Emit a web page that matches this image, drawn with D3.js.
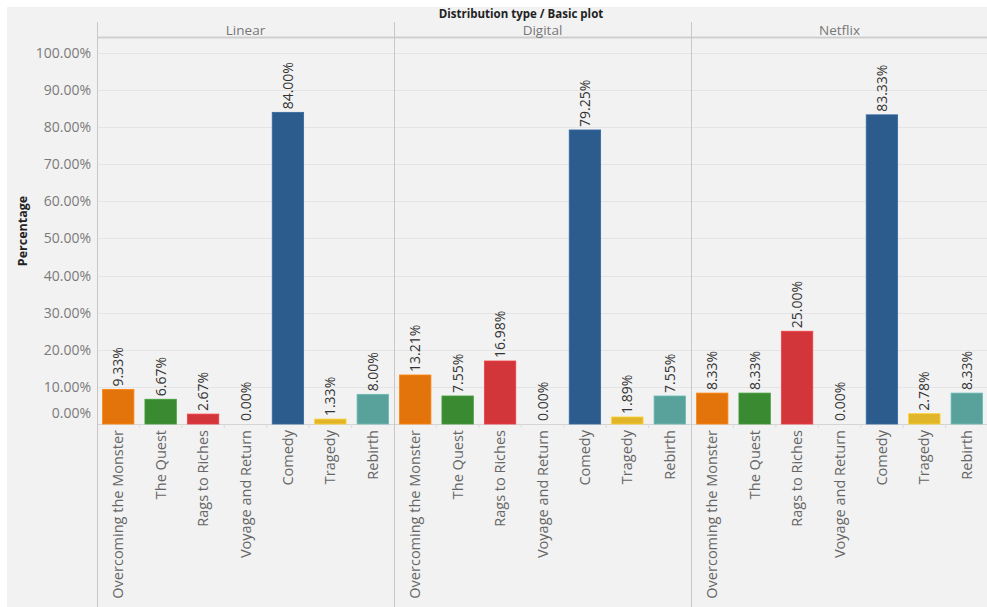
<!DOCTYPE html>
<html>
<head>
<meta charset="utf-8">
<script src="https://cdn.jsdelivr.net/npm/d3@7"></script>
<style>
html,body{margin:0;padding:0;background:#fff;}
svg{display:block;}
</style>
</head>
<body>
<svg id="chart" width="987" height="607"></svg>
<script>
const panels = ["Linear", "Digital", "Netflix"];
const categories = ["Overcoming the Monster", "The Quest", "Rags to Riches", "Voyage and Return", "Comedy", "Tragedy", "Rebirth"];
const linearValues = [9.33, 6.67, 2.67, 0.00, 84.00, 1.33, 8.00];
const digitalValues = [13.21, 7.55, 16.98, 0.00, 79.25, 1.89, 7.55];
const netflixValues = [8.33, 8.33, 25.00, 0.00, 83.33, 2.78, 8.33];
const yTicks = [0, 10, 20, 30, 40, 50, 60, 70, 80, 90, 100];
const colors = ["#e3740b", "#3a8a31", "#d3363a", "#8c8c8c", "#2c5b8e", "#e1b52a", "#59a29b"];
const titleText = "Distribution type / Basic plot";
const yTitle = "Percentage";

const seriesByPanel = [linearValues, digitalValues, netflixValues];

const svg = d3.select("#chart");
const W = 987, H = 607;
const font = "'Open Sans', 'Noto Sans', sans-serif";

svg.append("rect").attr("x", 7).attr("y", 7).attr("width", W - 7).attr("height", H - 7).attr("fill", "#f2f2f2");

const left = 97, right = 988, headerTop = 22, headerBottom = 38, baseline = 424;

const panelScale = d3.scaleBand().domain(panels).range([left, right]).padding(0);
const y = d3.scaleLinear().domain([0, 104.04]).range([baseline, headerBottom]);

// gridlines
svg.append("g").selectAll("line").data(yTicks.filter(d => d > 0)).join("line")
  .attr("x1", left).attr("x2", W)
  .attr("y1", d => Math.round(y(d)) + 0.5).attr("y2", d => Math.round(y(d)) + 0.5)
  .attr("stroke", "#e4e4e4").attr("stroke-width", 1);

// baseline
svg.append("line").attr("x1", left).attr("x2", W)
  .attr("y1", baseline + 0.5).attr("y2", baseline + 0.5)
  .attr("stroke", "#d4d4d4");

// header bottom line
svg.append("line").attr("x1", left).attr("x2", W)
  .attr("y1", headerBottom - 0.5).attr("y2", headerBottom - 0.5)
  .attr("stroke", "#cfcfcf").attr("stroke-width", 2);

// panel separators
svg.append("g").selectAll("line").data(panels).join("line")
  .attr("x1", d => Math.round(panelScale(d)) + 0.5).attr("x2", d => Math.round(panelScale(d)) + 0.5)
  .attr("y1", headerTop).attr("y2", H)
  .attr("stroke", "#c8c8c8");

// title
svg.append("text").attr("x", 521).attr("y", 18).attr("text-anchor", "middle")
  .attr("font-family", font).attr("font-size", 11.5).attr("font-weight", "bold").attr("fill", "#222")
  .text(titleText);

// panel headers
svg.append("g").selectAll("text").data(panels).join("text")
  .attr("x", d => panelScale(d) + panelScale.bandwidth() / 2).attr("y", 35)
  .attr("text-anchor", "middle").attr("font-family", font).attr("font-size", 13.5).attr("fill", "#777")
  .text(d => d);

// y axis
const yAxis = d3.axisLeft(y).tickValues(yTicks).tickSize(0).tickPadding(6)
  .tickFormat(d => d.toFixed(2) + "%");
const gy = svg.append("g").attr("transform", `translate(${left},0)`).call(yAxis);
gy.select(".domain").remove();
gy.selectAll("text").attr("font-family", font).attr("font-size", 14).attr("fill", "#7a7a7a")
  .attr("transform", d => d === 0 ? "translate(0,-11)" : null);

// y title
svg.append("text").attr("transform", "translate(27,231) rotate(-90)").attr("text-anchor", "middle")
  .attr("font-family", font).attr("font-size", 12.5).attr("font-weight", "bold").attr("fill", "#222")
  .text(yTitle);

// panels
panels.forEach((p, pi) => {
  const x = d3.scaleBand().domain(categories)
    .range([panelScale(p), panelScale(p) + panelScale.bandwidth()])
    .paddingInner(0.26).paddingOuter(0.13);
  const vals = seriesByPanel[pi];
  const data = categories.map((c, i) => ({ c, v: vals[i], i }));
  const g = svg.append("g");

  // small category separator ticks at baseline
  g.selectAll("line.sep").data(categories.slice(1)).join("line")
    .attr("x1", c => x(c) - x.step() * x.paddingInner() / 2)
    .attr("x2", c => x(c) - x.step() * x.paddingInner() / 2)
    .attr("y1", baseline).attr("y2", baseline + 4)
    .attr("stroke", "#dcdcdc");

  g.selectAll("rect").data(data).join("rect")
    .attr("x", d => x(d.c)).attr("width", x.bandwidth())
    .attr("y", d => y(d.v)).attr("height", d => baseline - y(d.v))
    .attr("fill", d => colors[d.i])
    .attr("stroke", d => d3.color(colors[d.i]).brighter(0.4))
    .attr("stroke-width", 0.8);

  // value labels
  g.selectAll("text.val").data(data).join("text")
    .attr("transform", d => `translate(${x(d.c) + x.bandwidth() / 2 + 5},${y(d.v) - 3}) rotate(-90)`)
    .attr("font-family", font).attr("font-size", 14).attr("fill", "#333")
    .text(d => d.v.toFixed(2) + "%");

  // category labels via axis
  const xAxis = d3.axisBottom(x).tickSize(0).tickPadding(0);
  const gx = g.append("g").attr("transform", `translate(0,${baseline})`).call(xAxis);
  gx.select(".domain").remove();
  gx.selectAll("text")
    .attr("font-family", font).attr("font-size", 14.5).attr("fill", "#666")
    .attr("text-anchor", "end").attr("dy", null).attr("y", 0).attr("x", 0)
    .attr("transform", "translate(5,6) rotate(-90)");
});
</script>
</body>
</html>
